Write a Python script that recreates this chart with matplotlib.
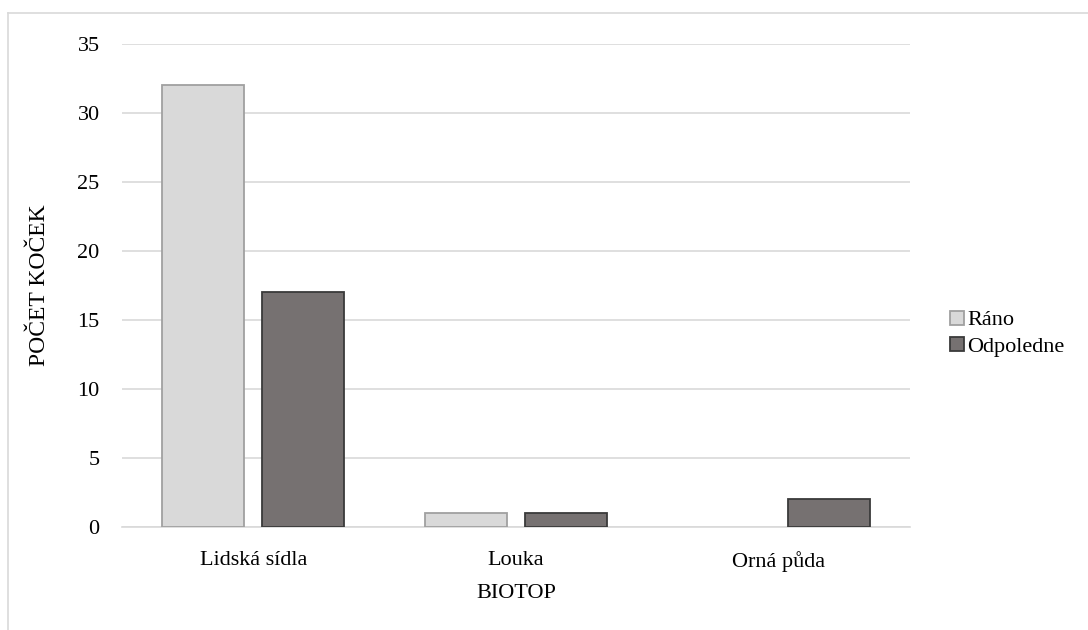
import matplotlib.pyplot as plt
import numpy as np
from matplotlib.lines import Line2D

plt.rcParams['font.family'] = ['Liberation Serif', 'DejaVu Serif']

# data
categories = ['Lidská sídla', 'Louka', 'Orná půda']
rano = [32, 1, 0]
odpoledne = [17, 1, 2]
series_names = ['Ráno', 'Odpoledne']
y_ticks = [0, 5, 10, 15, 20, 25, 30, 35]

fig = plt.figure(figsize=(10.88, 6.3), dpi=100)
ax = fig.add_axes([0.1121, 0.1635, 0.7243, 0.7667])

# outer chart border (light gray, only top/left visible)
fig.add_artist(Line2D([8 / 1088, 1.0], [1 - 13 / 630, 1 - 13 / 630],
                      transform=fig.transFigure, color='#d9d9d9', lw=1.2))
fig.add_artist(Line2D([8 / 1088, 8 / 1088], [0, 1 - 13 / 630],
                      transform=fig.transFigure, color='#d9d9d9', lw=1.2))

x = np.arange(len(categories))
w = 0.312
off = 0.19
b1 = ax.bar(x - off, rano, w, color='#d9d9d9', edgecolor='#a0a0a0', linewidth=1.3,
            label=series_names[0], zorder=3)
b2 = ax.bar(x + off, odpoledne, w, color='#767171', edgecolor='#3a3a3a', linewidth=1.3,
            label=series_names[1], zorder=3)
# prázdné sloupce nekreslit
for p in list(b1) + list(b2):
    if p.get_height() == 0:
        p.set_visible(False)

ax.set_xlim(-0.5, 2.5)
ax.set_ylim(0, 35)
ax.set_yticks(y_ticks)
ax.set_xticks(x)
ax.set_xticklabels(categories)
ax.tick_params(axis='both', length=0, labelsize=16, colors='black')
ax.tick_params(axis='y', pad=16)
ax.tick_params(axis='x', pad=17)
ax.grid(axis='y', color='#d9d9d9', lw=1.2, zorder=0)
for s in ['top', 'right', 'left']:
    ax.spines[s].set_visible(False)
ax.spines['bottom'].set_color('#d9d9d9')
ax.spines['bottom'].set_linewidth(1.2)

ax.set_xlabel('BIOTOP', fontsize=16, labelpad=9)
ax.set_ylabel('POČET KOČEK', fontsize=17, labelpad=20)

leg = ax.legend(loc='center left', bbox_to_anchor=(1.026, 0.40), frameon=False,
                fontsize=16, handlelength=0.6, handleheight=0.6,
                handletextpad=0.15, labelspacing=0.3)

plt.savefig('out.png', dpi=100)
